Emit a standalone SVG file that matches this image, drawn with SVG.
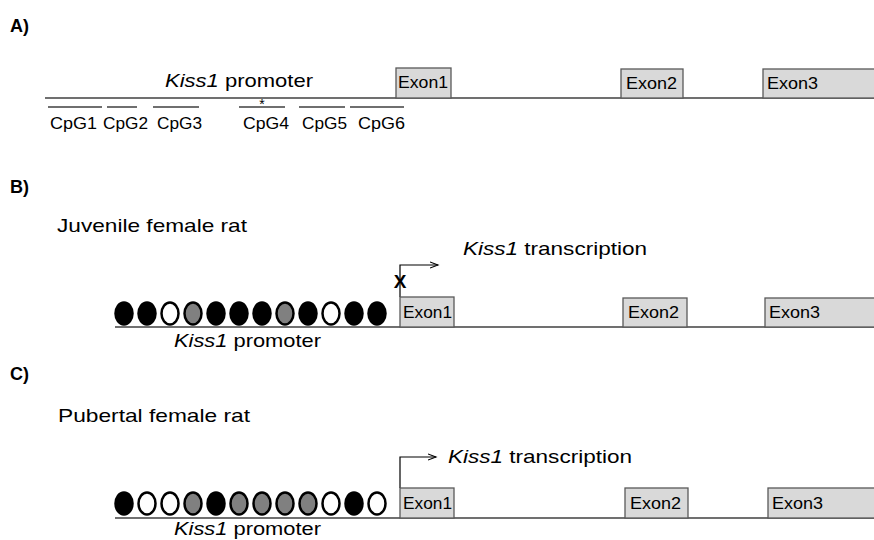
<svg xmlns="http://www.w3.org/2000/svg" width="874" height="540" viewBox="0 0 874 540">
<style>
text{font-family:"Liberation Sans",Arial,sans-serif;fill:#000}
.lbl{font-size:18px;font-weight:bold}
.t{font-size:19px}
.ex{font-size:16px}
.cpg{font-size:16px}
.it{font-style:italic}
.line{stroke:#404040;stroke-width:1.5;fill:none}
.box{fill:#d9d9d9;stroke:#595959;stroke-width:1.3}
.cl{stroke:#404040;stroke-width:1.3}
.arr{stroke:#000;stroke-width:1.2;fill:none;marker-end:url(#ah)}
.e{stroke:#000;stroke-width:2.5}
.k{fill:#000}.w{fill:#fff}.g{fill:#808080}
</style>
<defs>
<marker id="ah" markerWidth="10" markerHeight="8" refX="8" refY="4" orient="auto" markerUnits="userSpaceOnUse">
<path d="M0,1 L8,4 L0,7" fill="none" stroke="#000" stroke-width="1.1"/>
</marker>
</defs>

<g id="panelA">
<text class="lbl" x="10" y="32">A)</text>
<text class="t" x="165" y="87" textLength="148" lengthAdjust="spacingAndGlyphs"><tspan class="it">Kiss1</tspan> promoter</text>
<g id="connectorsA">
<path class="line" d="M45 98 H874"/>
<path class="cl" d="M48 107 H102 M107 107 H137 M153 107 H199 M239 107 H285 M299 107 H345 M350 107 H404"/>
</g>
<g id="A-exon1"><rect class="box" x="396" y="68" width="55" height="30"/><text class="ex" x="398" y="88" textLength="50" lengthAdjust="spacingAndGlyphs">Exon1</text></g>
<g id="A-exon2"><rect class="box" x="621" y="69" width="62" height="29"/><text class="ex" x="626" y="89" textLength="51" lengthAdjust="spacingAndGlyphs">Exon2</text></g>
<g id="A-exon3"><rect class="box" x="763" y="69" width="112" height="29"/><text class="ex" x="767" y="89" textLength="51" lengthAdjust="spacingAndGlyphs">Exon3</text></g>
<g id="A-cpg">
<text class="cpg" x="50" y="129" textLength="47" lengthAdjust="spacingAndGlyphs">CpG1</text>
<text class="cpg" x="103" y="129" textLength="45" lengthAdjust="spacingAndGlyphs">CpG2</text>
<text class="cpg" x="157" y="129" textLength="45" lengthAdjust="spacingAndGlyphs">CpG3</text>
<text class="cpg" x="243" y="129" textLength="46" lengthAdjust="spacingAndGlyphs">CpG4</text>
<text class="cpg" x="302" y="129" textLength="45" lengthAdjust="spacingAndGlyphs">CpG5</text>
<text class="cpg" x="358" y="129" textLength="47" lengthAdjust="spacingAndGlyphs">CpG6</text>
<text x="262" y="109" font-size="14" text-anchor="middle">*</text>
</g>
</g>

<g id="panelB">
<text class="lbl" x="10" y="193">B)</text>
<text class="t" x="57" y="232" textLength="190" lengthAdjust="spacingAndGlyphs">Juvenile female rat</text>
<text class="t" x="463" y="255" textLength="184" lengthAdjust="spacingAndGlyphs"><tspan class="it">Kiss1</tspan> transcription</text>
<g id="connectorsB">
<path class="line" d="M115 327 H874"/>
<path class="arr" d="M400 297 V265 H438"/>
</g>
<text x="400" y="288" font-size="19" font-weight="bold" text-anchor="middle">X</text>
<g id="B-sites">
<ellipse class="e k" cx="124" cy="313.5" rx="8.5" ry="11"/>
<ellipse class="e k" cx="147" cy="313.5" rx="8.5" ry="11"/>
<ellipse class="e w" cx="170" cy="313.5" rx="8.5" ry="11"/>
<ellipse class="e g" cx="193" cy="313.5" rx="8.5" ry="11"/>
<ellipse class="e k" cx="216" cy="313.5" rx="8.5" ry="11"/>
<ellipse class="e k" cx="239" cy="313.5" rx="8.5" ry="11"/>
<ellipse class="e k" cx="262" cy="313.5" rx="8.5" ry="11"/>
<ellipse class="e g" cx="285" cy="313.5" rx="8.5" ry="11"/>
<ellipse class="e k" cx="308" cy="313.5" rx="8.5" ry="11"/>
<ellipse class="e w" cx="331" cy="313.5" rx="8.5" ry="11"/>
<ellipse class="e k" cx="354" cy="313.5" rx="8.5" ry="11"/>
<ellipse class="e k" cx="377" cy="313.5" rx="8.5" ry="11"/>
</g>
<g id="B-exon1"><rect class="box" x="400" y="297" width="54" height="30"/><text class="ex" x="403" y="318" textLength="49" lengthAdjust="spacingAndGlyphs">Exon1</text></g>
<g id="B-exon2"><rect class="box" x="623" y="298" width="64" height="29"/><text class="ex" x="628" y="318" textLength="51" lengthAdjust="spacingAndGlyphs">Exon2</text></g>
<g id="B-exon3"><rect class="box" x="765" y="298" width="110" height="29"/><text class="ex" x="769" y="318" textLength="51" lengthAdjust="spacingAndGlyphs">Exon3</text></g>
<text class="t" x="174" y="347" textLength="147" lengthAdjust="spacingAndGlyphs"><tspan class="it">Kiss1</tspan> promoter</text>
</g>

<g id="panelC">
<text class="lbl" x="10" y="380">C)</text>
<text class="t" x="58" y="422" textLength="192" lengthAdjust="spacingAndGlyphs">Pubertal female rat</text>
<text class="t" x="448" y="463" textLength="184" lengthAdjust="spacingAndGlyphs"><tspan class="it">Kiss1</tspan> transcription</text>
<g id="connectorsC">
<path class="line" d="M115 518 H874"/>
<path class="arr" d="M400 488 V457 H436"/>
</g>
<g id="C-sites">
<ellipse class="e k" cx="124" cy="503.5" rx="8.5" ry="11"/>
<ellipse class="e w" cx="147" cy="503.5" rx="8.5" ry="11"/>
<ellipse class="e w" cx="170" cy="503.5" rx="8.5" ry="11"/>
<ellipse class="e g" cx="193" cy="503.5" rx="8.5" ry="11"/>
<ellipse class="e k" cx="216" cy="503.5" rx="8.5" ry="11"/>
<ellipse class="e g" cx="239" cy="503.5" rx="8.5" ry="11"/>
<ellipse class="e g" cx="262" cy="503.5" rx="8.5" ry="11"/>
<ellipse class="e g" cx="285" cy="503.5" rx="8.5" ry="11"/>
<ellipse class="e g" cx="308" cy="503.5" rx="8.5" ry="11"/>
<ellipse class="e w" cx="331" cy="503.5" rx="8.5" ry="11"/>
<ellipse class="e k" cx="354" cy="503.5" rx="8.5" ry="11"/>
<ellipse class="e w" cx="377" cy="503.5" rx="8.5" ry="11"/>
</g>
<g id="C-exon1"><rect class="box" x="400" y="488" width="54" height="30"/><text class="ex" x="403" y="509" textLength="49" lengthAdjust="spacingAndGlyphs">Exon1</text></g>
<g id="C-exon2"><rect class="box" x="625" y="488" width="63" height="30"/><text class="ex" x="630" y="509" textLength="51" lengthAdjust="spacingAndGlyphs">Exon2</text></g>
<g id="C-exon3"><rect class="box" x="768" y="488" width="107" height="30"/><text class="ex" x="772" y="509" textLength="51" lengthAdjust="spacingAndGlyphs">Exon3</text></g>
<text class="t" x="174" y="535" textLength="147" lengthAdjust="spacingAndGlyphs" style="font-size:18px"><tspan class="it">Kiss1</tspan> promoter</text>
</g>
</svg>
